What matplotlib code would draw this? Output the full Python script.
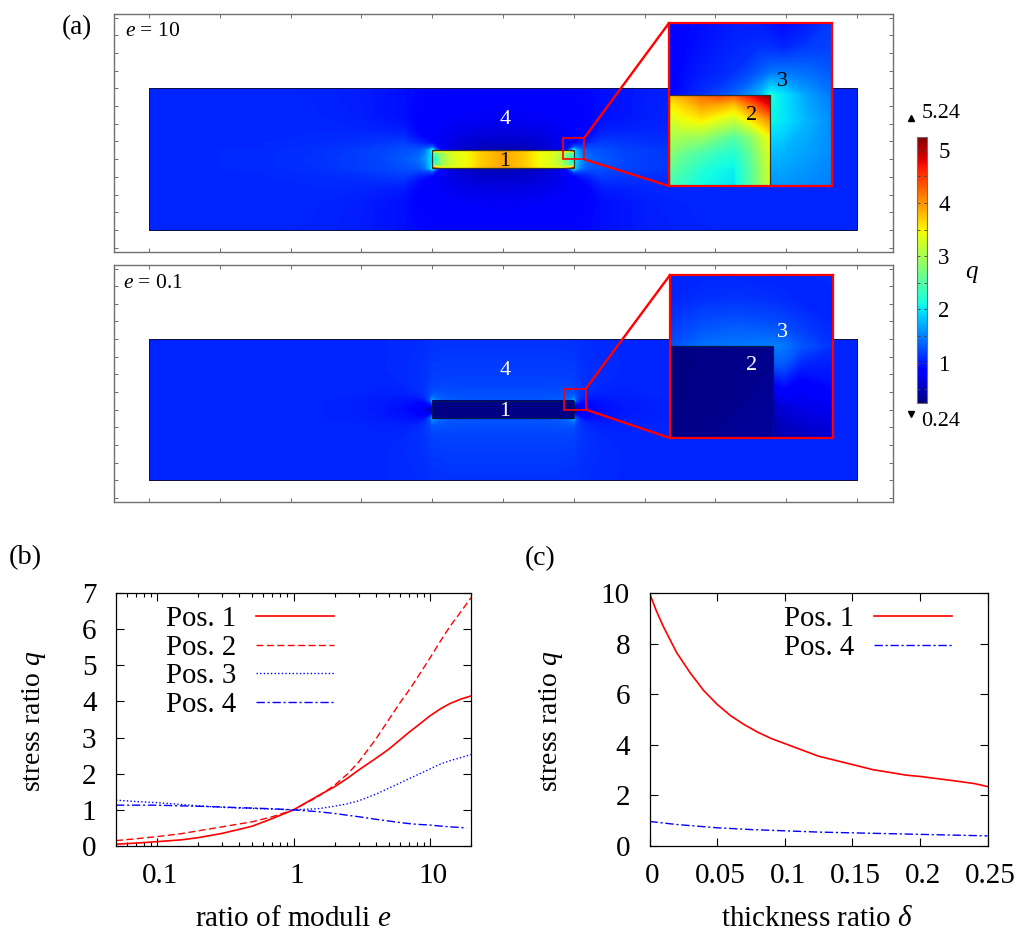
import numpy as np
import matplotlib
matplotlib.use("Agg")
import matplotlib.pyplot as plt
from matplotlib.cm import ScalarMappable
from matplotlib.colors import Normalize
from matplotlib.patches import ConnectionPatch, Rectangle
from matplotlib.ticker import FixedLocator, FuncFormatter, NullFormatter, MultipleLocator
from matplotlib.transforms import ScaledTranslation

plt.rcParams.update({
    "font.family": "Liberation Serif",
    "mathtext.fontset": "custom",
    "mathtext.rm": "Liberation Serif",
    "mathtext.it": "Liberation Serif:italic",
    "mathtext.bf": "Liberation Serif:bold",
    "figure.facecolor": "white",
})

W, H = 1024, 938
Q_MIN, Q_MAX = 0.24, 5.24

# --- panel (a): stress field, quarter of the plate (mirrored when drawn) ---
plate_x = [0, 3, 6, 8, 9, 9.7, 10, 10.3, 11, 12, 14, 17, 21, 27, 35, 50]
plate_y = [0, 1.25, 1.7, 2.3, 3, 4.2, 6, 10]
plate_q_e10 = [
    [.45, .45, .5, .6, .9, 1.6, 2.0, 1.9, 1.6, 1.4, 1.3, 1.22, 1.16, 1.11, 1.07, 1.05],
    [.45, .47, .55, .7, 1.0, 1.7, 2.2, 1.8, 1.45, 1.3, 1.26, 1.2, 1.15, 1.1, 1.07, 1.05],
    [.5, .52, .6, .72, .85, 1.1, 1.3, 1.27, 1.22, 1.2, 1.22, 1.17, 1.13, 1.09, 1.06, 1.05],
    [.55, .57, .63, .72, .78, .84, .88, .92, .98, 1.05, 1.17, 1.13, 1.1, 1.08, 1.06, 1.05],
    [.6, .62, .66, .72, .76, .78, .8, .83, .88, .94, 1.1, 1.1, 1.08, 1.07, 1.05, 1.05],
    [.68, .69, .72, .75, .77, .79, .8, .82, .84, .87, 1.0, 1.02, 1.05, 1.06, 1.05, 1.05],
    [.76, .77, .78, .8, .81, .82, .83, .84, .85, .87, .93, .97, 1.02, 1.05, 1.05, 1.05],
    [.85, .85, .86, .87, .87, .88, .88, .88, .89, .9, .93, .97, 1.01, 1.04, 1.05, 1.05],
]
plate_q_e01 = [
    [1.25, 1.25, 1.25, 1.2, 1.0, .6, .4, .4, .6, .8, .92, .98, 1.02, 1.05, 1.05, 1.05],
    [1.28, 1.28, 1.3, 1.33, 1.4, 1.5, 1.7, 1.25, .97, .92, .95, 1.0, 1.03, 1.05, 1.05, 1.05],
    [1.27, 1.27, 1.28, 1.3, 1.33, 1.4, 1.45, 1.27, 1.08, 1.0, .98, 1.01, 1.04, 1.05, 1.05, 1.05],
    [1.25, 1.25, 1.25, 1.26, 1.27, 1.27, 1.27, 1.2, 1.12, 1.06, 1.03, 1.03, 1.05, 1.05, 1.05, 1.05],
    [1.22, 1.22, 1.22, 1.23, 1.23, 1.23, 1.22, 1.18, 1.13, 1.09, 1.05, 1.04, 1.05, 1.05, 1.05, 1.05],
    [1.19, 1.19, 1.19, 1.19, 1.19, 1.18, 1.18, 1.15, 1.12, 1.1, 1.07, 1.05, 1.05, 1.05, 1.05, 1.05],
    [1.16, 1.16, 1.16, 1.16, 1.15, 1.15, 1.15, 1.13, 1.11, 1.1, 1.08, 1.06, 1.05, 1.05, 1.05, 1.05],
    [1.11, 1.11, 1.11, 1.11, 1.1, 1.1, 1.1, 1.1, 1.09, 1.08, 1.07, 1.06, 1.05, 1.05, 1.05, 1.05],
]

incl_x = [0, 3, 5, 7, 8.5, 9.5, 10]
incl_y = [0, .9, 1.25]
incl_q_e10 = [
    [3.9, 3.7, 3.45, 3.3, 2.9, 2.2, 2.0],
    [3.9, 3.7, 3.45, 3.3, 3.0, 2.5, 2.6],
    [3.95, 3.75, 3.5, 3.4, 3.4, 4.0, 5.0],
]
incl_q_e01 = [
    [.27, .27, .27, .27, .27, .27, .27],
    [.27, .27, .27, .27, .27, .27, .28],
    [.27, .27, .27, .27, .27, .28, .3],
]

# zoomed views, coordinates are fractions of the view
zoom_x_e10 = [0, .2, .4, .55, .62, .7, .85, 1]
zoom_y_e10 = [0, .2, .4, .558, .7, .85, 1]
zoom_q_e10 = [
    [1.6, 1.6, 1.6, 1.6, 1.6, 1.6, 1.55, 1.5],
    [1.8, 1.8, 1.8, 1.8, 1.8, 1.75, 1.65, 1.55],
    [2.1, 2.1, 2.1, 2.1, 2.1, 2.0, 1.75, 1.55],
    [.85, 1.1, 1.35, 1.75, 2.15, 2.0, 1.65, 1.45],
    [.85, 1.0, 1.1, 1.3, 1.42, 1.45, 1.4, 1.3],
    [.85, .95, 1.05, 1.1, 1.1, 1.05, 1.15, 1.2],
    [.88, .92, 1.0, 1.0, .95, .9, 1.0, 1.15],
]
tip_x_e10 = [0, .1, .2, .3, .4, .5, .62]
tip_y_e10 = [0, .1, .2, .3, .4, .5, .558]
tip_q_e10 = [
    [2.4, 2.25, 2.1, 2.05, 2.0, 2.5, 3.2],
    [2.6, 2.4, 2.2, 2.1, 2.05, 2.5, 3.25],
    [2.8, 2.6, 2.45, 2.3, 2.2, 2.6, 3.3],
    [3.0, 2.95, 2.9, 2.7, 2.5, 2.8, 3.45],
    [3.25, 3.4, 3.5, 3.3, 3.15, 3.5, 4.0],
    [3.5, 3.7, 3.95, 3.9, 3.75, 4.2, 4.8],
    [3.75, 3.95, 4.2, 4.4, 4.3, 4.7, 5.2],
]

zoom_x_e01 = [0, .2, .4, .632, .7, .8, 1]
zoom_y_e01 = [0, .2, .35, .45, .564, .7, .85, 1]
zoom_q_e01 = [
    [.4, .4, .4, .4, .45, .5, .6],
    [.55, .55, .55, .55, .65, .7, .75],
    [.9, .9, .9, .9, 1.0, .85, .95],
    [1.3, 1.3, 1.3, 1.3, 1.3, 1.05, 1.0],
    [1.25, 1.42, 1.45, 1.5, 1.45, 1.3, 1.1],
    [1.15, 1.25, 1.3, 1.25, 1.22, 1.15, 1.05],
    [1.05, 1.1, 1.12, 1.1, 1.08, 1.05, 1.05],
    [1.05, 1.05, 1.05, 1.03, 1.03, 1.05, 1.08],
]
tip_x_e01 = [0, .632]
tip_y_e01 = [0, .564]
tip_q_e01 = [
    [.27, .38],
    [.27, .3],
]

# --- panel (b) ---
e_values = [.05, .07, .1, .15, .2, .3, .4, .5, .7, 1, 1.5, 2, 2.5, 3, 4, 5, 6, 7, 8, 10, 12, 14, 17, 20]
b_pos1 = [.05, .08, .12, .17, .23, .35, .46, .55, .76, 1, 1.38, 1.64, 1.88, 2.1, 2.42, 2.68,
          2.93, 3.14, 3.31, 3.6, 3.8, 3.94, 4.07, 4.15]
b_pos2 = [.15, .2, .26, .34, .42, .53, .61, .67, .81, 1, 1.36, 1.68, 2.0, 2.32, 2.95, 3.5,
          3.95, 4.3, 4.63, 5.2, 5.68, 6.07, 6.5, 6.87]
b_pos3 = [1.27, 1.23, 1.2, 1.15, 1.11, 1.07, 1.05, 1.04, 1.02, 1, 1.03, 1.1, 1.17, 1.25, 1.43, 1.6,
          1.74, 1.86, 1.96, 2.13, 2.27, 2.36, 2.45, 2.53]
e_values_pos4 = [.05, .07, .1, .15, .2, .3, .4, .5, .7, 1, 1.5, 2, 2.5, 3, 4, 5, 6, 7, 8, 10, 12, 14, 17, 18.5]
b_pos4 = [1.13, 1.13, 1.13, 1.11, 1.1, 1.08, 1.06, 1.05, 1.03, 1, .95, .9, .85, .81, .74, .69,
          .65, .62, .6, .58, .55, .53, .51, .49]

# --- panel (c) ---
delta_1 = [0, .005, .01, .02, .03, .04, .05, .06, .07, .08, .09, .1, .125, .15, .165, .19, .2, .225, .24, .25]
c_pos1 = [10, 9.3, 8.7, 7.65, 6.85, 6.15, 5.6, 5.15, 4.8, 4.5, 4.25, 4.05, 3.55, 3.22, 3.02, 2.8, 2.75, 2.58, 2.47, 2.35]
delta_4 = [0, .02, .05, .075, .1, .125, .15, .175, .2, .225, .25]
c_pos4 = [.97, .85, .72, .65, .6, .55, .52, .49, .46, .43, .4]

levels = np.linspace(Q_MIN, Q_MAX, 256)
norm = Normalize(Q_MIN, Q_MAX)
GRAY = "#6e6e6e"


def px_axes(fig, x0, y0, x1, y1, **kw):
    return fig.add_axes([x0 / W, 1 - y1 / H, (x1 - x0) / W, (y1 - y0) / H], **kw)


def px_text(fig, x, y, s, **kw):
    kw.setdefault("ha", "center")
    kw.setdefault("va", "center")
    return fig.text(x / W, 1 - y / H, s, **kw)


def mirror(xs, ys, q):
    q = np.array(q, dtype=float)
    xs = np.array(xs, dtype=float)
    ys = np.array(ys, dtype=float)
    full_x = np.concatenate([-xs[:0:-1], xs])
    full_y = np.concatenate([-ys[:0:-1], ys])
    full_q = np.hstack([q[:, :0:-1], q])
    full_q = np.vstack([full_q[:0:-1], full_q])
    return full_x, full_y, full_q


def field(ax, xs, ys, q, zorder=1):
    return ax.contourf(xs, ys, q, levels=levels, cmap="jet", norm=norm,
                       antialiased=False, zorder=zorder)


def stress_panel(fig, y_top, y_bot, plate_q, incl_q, incl_edge):
    ax = px_axes(fig, 114, y_top, 893, y_bot)
    ax.set_xlim(-54.95, 55.08)
    ax.set_ylim(-13.1, 20.5)
    ax.xaxis.set_major_locator(MultipleLocator(10))
    ax.yaxis.set_major_locator(MultipleLocator(2.5))
    ax.tick_params(direction="in", length=2.6, width=.7, color=GRAY,
                   top=True, right=True, labelbottom=False, labelleft=False)
    for s in ax.spines.values():
        s.set_color(GRAY)
        s.set_linewidth(1.0)
    field(ax, *mirror(plate_x, plate_y, plate_q))
    field(ax, *mirror(incl_x, incl_y, incl_q), zorder=2)
    ax.add_patch(Rectangle((-50, -10), 100, 20, fill=False, ec="#101040", lw=.7, zorder=3))
    ax.add_patch(Rectangle((-10, -1.25), 20, 2.5, fill=False, ec=incl_edge, lw=.9, zorder=3))
    return ax


def zoom_view(fig, ax, box, view, outer, inner, edge):
    ins = px_axes(fig, *view)
    ins.set_xlim(0, 1)
    ins.set_ylim(0, 1)
    ins.set_xticks([])
    ins.set_yticks([])
    field(ins, *outer)
    field(ins, *inner, zorder=2)
    xs, ys, _ = inner
    ins.add_patch(Rectangle((0, 0), xs[-1], ys[-1], fill=False, ec=edge, lw=.9, zorder=3))
    for s in ins.spines.values():
        s.set_color("#ff0000")
        s.set_linewidth(1.6)
        s.set_zorder(5)
    x0, x1, y0, y1 = box
    ax.add_patch(Rectangle((x0, y0), x1 - x0, y1 - y0, fill=False, ec="#ff0000", lw=1.2, zorder=4))
    for ya, yb in ((y1, 1), (y0, 0)):
        fig.add_artist(ConnectionPatch((x1, ya), (0, yb), coordsA=ax.transData,
                                       coordsB=ins.transAxes, color="#ff0000", lw=1.7))
    return ins


def line_panel(fig, x0, x1, ylim, yticks):
    ax = px_axes(fig, x0, 593, x1, 846)
    ax.set_ylim(*ylim)
    ax.set_yticks(yticks)
    ax.tick_params(which="major", direction="in", length=5.5, width=.8, top=True, right=True,
                   labelsize=21)
    ax.tick_params(which="minor", direction="in", length=2.8, width=.8, top=True, right=True)
    ax.tick_params(axis="x", which="major", pad=12.5)
    ax.tick_params(axis="y", which="major", pad=14)
    for s in ax.spines.values():
        s.set_linewidth(.9)
    return ax


def nudge_xlabels(fig, ax):
    # gnuplot-style labels sit a little right of their ticks
    shift = ScaledTranslation(3 / 100, 0, fig.dpi_scale_trans)
    for lab in ax.get_xticklabels():
        lab.set_transform(lab.get_transform() + shift)


def line_legend(ax, x_anchor):
    leg = ax.legend(loc="upper left", bbox_to_anchor=(x_anchor, .948), frameon=False, fontsize=20.7,
                    markerfirst=False, handlelength=2.7, handletextpad=.7, labelspacing=.085,
                    borderaxespad=0, borderpad=0)
    return leg


def main():
    fig = plt.figure(figsize=(W / 100, H / 100), dpi=100)

    # (a) e = 10
    ax1 = stress_panel(fig, 14, 252, plate_q_e10, incl_q_e10, "#303030")
    zoom_view(fig, ax1, (8.47, 11.45, 0, 2.97), (669, 23, 832, 186),
              (zoom_x_e10, zoom_y_e10, np.array(zoom_q_e10)),
              (tip_x_e10, tip_y_e10, np.array(tip_q_e10)), "#303030")
    # (a) e = 0.1
    ax2 = stress_panel(fig, 265, 502, plate_q_e01, incl_q_e01, "#001a50")
    zoom_view(fig, ax2, (8.6, 11.7, 0, 2.97), (670, 275, 833, 438),
              (zoom_x_e01, zoom_y_e01, np.array(zoom_q_e01)),
              (tip_x_e01, tip_y_e01, np.array(tip_q_e01)), "#001a50")

    px_text(fig, 77, 28, "(a)", fontsize=19.5)
    px_text(fig, 153, 31, r"$e$ = 10", fontsize=15.5)
    px_text(fig, 153, 283, r"$e$ = 0.1", fontsize=15.5)
    for x, y, s, c in [(505, 119, "4", "white"), (505, 161, "1", "black"),
                       (782, 82, "3", "black"), (752, 115, "2", "black"),
                       (505, 370, "4", "white"), (505, 411, "1", "white"),
                       (782, 332, "3", "white"), (752, 365, "2", "white")]:
        t = px_text(fig, x, y, s, color=c, fontsize=16)
        t.set_zorder(10)

    # colour bar
    cax = px_axes(fig, 917, 137, 927, 403)
    cb = fig.colorbar(ScalarMappable(norm=norm, cmap="jet"), cax=cax)
    cb.set_ticks([1, 2, 3, 4, 5])
    cb.ax.yaxis.set_minor_locator(FixedLocator(np.arange(.5, 5.1, .5)))
    cb.ax.tick_params(which="both", direction="in", length=2, width=.6, color="#444444",
                      left=True, right=True, labelsize=16.5, pad=8)
    cb.outline.set_edgecolor(GRAY)
    cb.outline.set_linewidth(.8)
    cax.plot([-.65], [1.072], marker="^", color="black", ms=4.5, transform=cax.transAxes, clip_on=False)
    cax.plot([-.65], [-.04], marker="v", color="black", ms=4.5, transform=cax.transAxes, clip_on=False)
    px_text(fig, 941, 114, "5.24", fontsize=16)
    px_text(fig, 941, 421, "0.24", fontsize=16)
    px_text(fig, 972, 274, r"$q$", fontsize=18)

    # (b)
    axb = line_panel(fig, 116, 471, (0, 7), range(0, 8))
    axb.set_xscale("log")
    axb.set_xlim(.05, 20)
    axb.xaxis.set_major_locator(FixedLocator([.1, 1, 10]))
    axb.xaxis.set_major_formatter(FuncFormatter(lambda v, p: f"{v:g}"))
    axb.xaxis.set_minor_locator(FixedLocator([m * d for d in (.01, .1, 1, 10) for m in range(2, 10)]))
    axb.xaxis.set_minor_formatter(NullFormatter())
    axb.plot(e_values, b_pos1, color="#ff0000", lw=1.2, label="Pos. 1")
    axb.plot(e_values, b_pos2, color="#ff0000", lw=1.0, ls=(0, (5, 2.5)), label="Pos. 2")
    axb.plot(e_values, b_pos3, color="#0000ff", lw=1.0, ls=(0, (1, 1.6)), label="Pos. 3")
    axb.plot(e_values_pos4, b_pos4, color="#0000ff", lw=1.0, ls=(0, (6, 2, 1.5, 2)), label="Pos. 4")
    line_legend(axb, .14)
    nudge_xlabels(fig, axb)
    px_text(fig, 293, 919, r"ratio of moduli $e$", fontsize=21)
    px_text(fig, 34, 721, r"stress ratio $q$", fontsize=20, rotation=90)
    px_text(fig, 25, 558, "(b)", fontsize=20.5)

    # (c)
    axc = line_panel(fig, 649.5, 987.5, (0, 10), range(0, 11, 2))
    axc.set_xlim(0, .25)
    axc.set_xticks([0, .05, .1, .15, .2, .25])
    axc.xaxis.set_major_formatter(FuncFormatter(lambda v, p: f"{v:g}"))
    axc.plot(delta_1, c_pos1, color="#ff0000", lw=1.2, label="Pos. 1")
    axc.plot(delta_4, c_pos4, color="#0000ff", lw=1.0, ls=(0, (6, 2, 1.5, 2)), label="Pos. 4")
    line_legend(axc, .398)
    nudge_xlabels(fig, axc)
    px_text(fig, 817, 919, r"thickness ratio $\delta$", fontsize=21)
    px_text(fig, 551, 721, r"stress ratio $q$", fontsize=20, rotation=90)
    px_text(fig, 540, 559, "(c)", fontsize=20)

    fig.savefig("out.png", dpi=100)
    plt.close(fig)


if __name__ == "__main__":
    main()
